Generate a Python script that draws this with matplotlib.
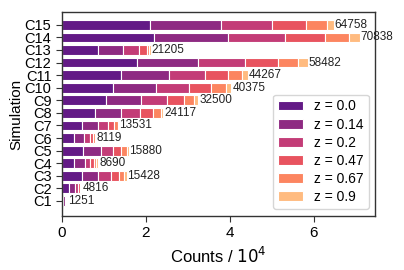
import numpy as np
import matplotlib.pyplot as plt

plt.rcParams['font.family'] = ['Liberation Sans', 'DejaVu Sans']

# simulations and redshift bins
sims = ['C1', 'C2', 'C3', 'C4', 'C5', 'C6', 'C7', 'C8',
        'C9', 'C10', 'C11', 'C12', 'C13', 'C14', 'C15']
redshifts = ['0.0', '0.14', '0.2', '0.47', '0.67', '0.9']

# counts per redshift (rows = z bins, cols = simulations C1..C15)
z00 = [400, 1667, 4690, 2929, 5071, 2929, 4833, 7786, 10405, 12214, 14119, 17929, 8500, 21905, 20952]
z014 = [350, 1428, 3810, 2476, 4143, 2381, 3667, 6190, 8405, 10238, 11357, 14523, 6095, 17690, 16834]
z02 = [250, 715, 3095, 1333, 2857, 1357, 2524, 4595, 6190, 7715, 8572, 11191, 3810, 13572, 12285]
z047 = [130, 404, 2048, 810, 1977, 785, 1428, 3167, 4119, 5309, 5547, 7857, 1905, 9381, 8096]
z067 = [70, 238, 1190, 550, 1357, 334, 810, 1833, 2381, 3500, 3191, 4762, 476, 5714, 4857]
z09 = [51, 364, 595, 592, 475, 333, 269, 546, 1000, 1399, 1481, 2220, 419, 2576, 1734]
totals = [1251, 4816, 15428, 8690, 15880, 8119, 13531, 24117,
          32500, 40375, 44267, 58482, 21205, 70838, 64758]

colors = ['#631a86', '#8e2a82', '#c33c77', '#e8535f', '#fc8560', '#ffbb80']

fig = plt.figure(figsize=(4.04, 2.7), dpi=100)
ax = fig.add_axes([0.153, 0.2, 0.776, 0.756])

y = np.arange(len(sims))
left = np.zeros(len(sims))
for vals, z, c in zip([z00, z014, z02, z047, z067, z09], redshifts, colors):
    v = np.array(vals) / 1e4
    ax.barh(y, v, left=left, height=0.78, color=c, edgecolor='white',
            linewidth=0.8, label='z = ' + z)
    left += v

for yi, t in zip(y, totals):
    ax.text(t / 1e4 + 0.02, yi, str(t), va='center', ha='left', fontsize=8.5, color='#222222')

ax.set_yticks(y)
ax.set_yticklabels(sims, fontsize=10.5)
ax.set_xticks([0, 2, 4, 6])
ax.tick_params(axis='x', labelsize=11)
ax.tick_params(axis='both', length=4, color='#333333')
ax.set_xlim(0, 7.46)
ax.set_ylim(-1.2, 15.03)
ax.set_xlabel('Counts / $10^4$', fontsize=12)
ax.set_ylabel('Simulation', fontsize=11, labelpad=1)
for s in ax.spines.values():
    s.set_color('#333333')
    s.set_linewidth(1.0)

leg = ax.legend(loc='lower right', fontsize=10, handlelength=1.8, handleheight=0.7,
                labelspacing=0.3, borderpad=0.35, handletextpad=0.8,
                borderaxespad=0, frameon=True, fancybox=True,
                bbox_to_anchor=(0.979, 0.034))
leg.get_frame().set_edgecolor('#cccccc')

fig.savefig('out.png', dpi=100)
